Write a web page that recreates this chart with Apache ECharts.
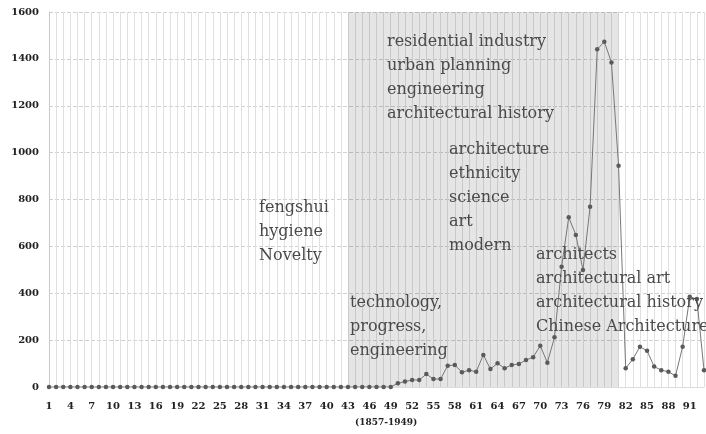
<!DOCTYPE html>
<html>
<head>
<meta charset="utf-8">
<script src="https://cdn.jsdelivr.net/npm/echarts@6/dist/echarts.min.js"></script>
<style>
html,body{margin:0;padding:0;background:#fff;}
#chart{width:706px;height:434px;}
</style>
</head>
<body>
<div id="chart"></div>
<script>
var categories = ['1','2','3','4','5','6','7','8','9','10','11','12','13','14','15','16','17','18','19','20',
'21','22','23','24','25','26','27','28','29','30','31','32','33','34','35','36','37','38','39','40',
'41','42','43','44','45','46','47','48','49','50','51','52','53','54','55','56','57','58','59','60',
'61','62','63','64','65','66','67','68','69','70','71','72','73','74','75','76','77','78','79','80',
'81','82','83','84','85','86','87','88','89','90','91','92','93'];

var values = [0,0,0,0,0,0,0,0,0,0, 0,0,0,0,0,0,0,0,0,0,
0,0,0,0,0,0,0,0,0,0, 0,0,0,0,0,0,0,0,0,0,
0,0,0,0,0,0,0,0,0,
16,23,30,30,55,34,34,91,94,63,72,65,137,77,101,80,94,98,115,127,
176,104,212,513,724,649,499,769,1441,1473,1385,944,
80,118,172,155,87,72,65,48,172,385,375,72];

var yTicks = {min:0, max:1600, interval:200};
var shadeRange = ['43','81'];
var axisTitle = '(1857-1949)';

var notes = [
  {text:['fengshui','hygiene','Novelty'], x:259, y:196},
  {text:['technology,','progress,','engineering'], x:350, y:291},
  {text:['residential industry','urban planning','engineering','architectural history'], x:387, y:30},
  {text:['architecture','ethnicity','science','art','modern'], x:449, y:138},
  {text:['architects','architectural art','architectural history','Chinese Architecture'], x:536, y:243}
];

var serif = '"DejaVu Serif", "Liberation Serif", serif';

var chart = echarts.init(document.getElementById('chart'));
var graphics = notes.map(function(n){
  return {
    type:'text', left:n.x, top:n.y, z:100,
    style:{text:n.text.join('\n'), font:'16px ' + serif, lineHeight:24, fill:'#4a4a4a'}
  };
});
graphics.push({
  type:'text', left:355, top:418, z:100,
  style:{text:axisTitle, font:'bold 9px ' + serif, fill:'#222'}
});

chart.setOption({
  animation:false,
  backgroundColor:'#fff',
  grid:{left:49, right:2, top:12, bottom:47, containLabel:false},
  xAxis:{
    type:'category', data:categories, boundaryGap:false,
    axisLine:{show:true, lineStyle:{color:'#ddd'}},
    axisTick:{show:false},
    axisLabel:{interval:2, color:'#222', fontFamily:serif, fontWeight:'bold', fontSize:10, margin:14},
    splitLine:{show:true, interval:0, lineStyle:{color:'#e0e0e0', width:1}}
  },
  yAxis:{
    type:'value', min:yTicks.min, max:yTicks.max, interval:yTicks.interval,
    axisLine:{show:true, lineStyle:{color:'#c8c8c8'}},
    axisTick:{show:false},
    axisLabel:{color:'#222', fontFamily:serif, fontWeight:'bold', fontSize:10, margin:10,
      formatter:function(v){return String(v);}},
    splitLine:{show:true, lineStyle:{color:'#d0d0d0', type:'dashed', width:1}}
  },
  series:[{
    type:'line', data:values,
    symbol:'circle', symbolSize:4.5, showSymbol:true, showAllSymbol:true,
    lineStyle:{color:'#777', width:1},
    itemStyle:{color:'#5a5a5a'},
    markArea:{
      silent:true,
      itemStyle:{color:'rgba(0,0,0,0.1)'},
      data:[[{xAxis:shadeRange[0]},{xAxis:shadeRange[1]}]]
    }
  }],
  graphic:graphics
});
</script>
</body>
</html>
